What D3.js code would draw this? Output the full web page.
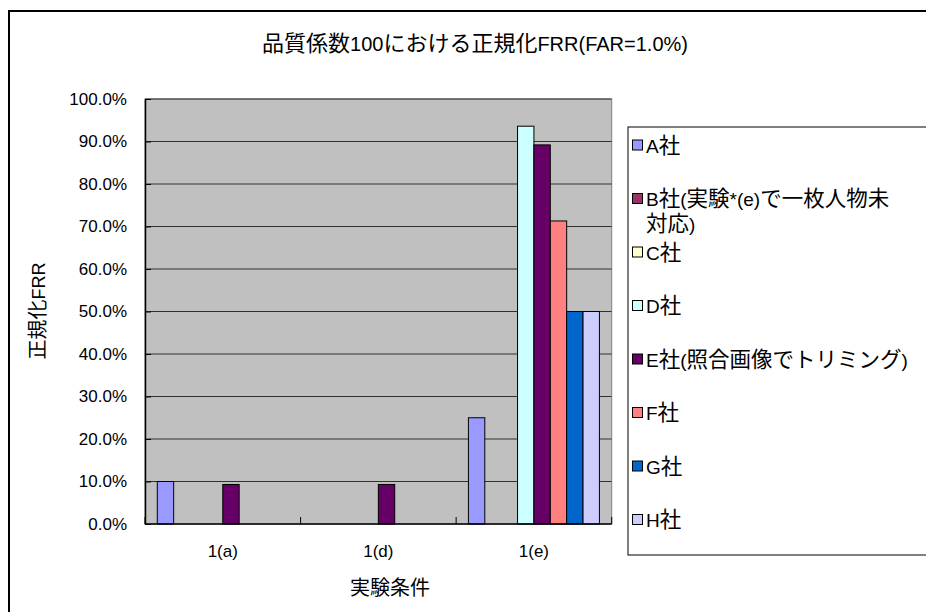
<!DOCTYPE html>
<html>
<head>
<meta charset="utf-8">
<script src="https://cdn.jsdelivr.net/npm/d3@7"></script>
<style>
  html, body { margin: 0; padding: 0; background: #fff; }
  svg { display: block; }
  text { font-family: "Liberation Sans", Arial, "Noto Sans CJK JP", sans-serif; fill: #000; }
</style>
</head>
<body>
<svg id="chart" width="926" height="612"></svg>
<script>
// Experiment conditions (x categories)
const categories = ["1(a)", "1(d)", "1(e)"];

// Vendors shown in the legend
const seriesNames = [
  "A社",
  "B社(実験*(e)で一枚人物未対応)",
  "C社",
  "D社",
  "E社(照合画像でトリミング)",
  "F社",
  "G社",
  "H社"
];

// Normalized FRR (%) per vendor, one value per condition (null = no bar)
const valuesA = [10.0, null, 25.0];
const valuesB = [null, null, null];
const valuesC = [null, null, null];
const valuesD = [null, null, 93.6];
const valuesE = [9.3, 9.3, 89.2];
const valuesF = [null, null, 71.3];
const valuesG = [null, null, 50.0];
const valuesH = [null, null, 50.0];

const seriesColors = ["#9999FF", "#993366", "#FFFFCC", "#CCFFFF", "#660066", "#FF8080", "#0066CC", "#CCCCFF"];

// Y axis tick values (%)
const yTicks = [0, 10, 20, 30, 40, 50, 60, 70, 80, 90, 100];

const titleText = "品質係数100における正規化FRR(FAR=1.0%)";
const yTitle = "正規化FRR";
const xTitle = "実験条件";

const seriesValues = [valuesA, valuesB, valuesC, valuesD, valuesE, valuesF, valuesG, valuesH];

const svg = d3.select("#chart");

// Writes mixed Japanese / Latin text: CJK runs are drawn a little larger than Latin runs
const CJK = /[\u3000-\u30ff\u3400-\u9fff\uff00-\uffef]/;
function richText(textSel, str, latinSize, cjkSize) {
  const runs = [];
  for (const ch of str) {
    const isCjk = CJK.test(ch);
    const last = runs[runs.length - 1];
    if (last && last.cjk === isCjk) last.s += ch;
    else runs.push({ cjk: isCjk, s: ch });
  }
  runs.forEach(r => {
    textSel.append("tspan")
      .style("font-family", '"Liberation Sans", Arial, "Noto Sans CJK JP", sans-serif')
      .attr("font-size", r.cjk ? cjkSize : latinSize)
      .text(r.s);
  });
  return textSel;
}

// Outer chart frame
svg.append("rect")
  .attr("x", 9).attr("y", 11)
  .attr("width", 940).attr("height", 620)
  .attr("fill", "#fff").attr("stroke", "#000").attr("stroke-width", 2);

const plot = { left: 145, right: 611.7, top: 99, bottom: 524 };

const x0 = d3.scaleBand().domain(categories).range([plot.left, plot.right]).padding(0);
const x1 = d3.scaleBand().domain(d3.range(seriesNames.length))
  .range([0, x0.bandwidth()]).paddingInner(0).paddingOuter(0.75);
const y = d3.scaleLinear().domain([0, 100]).range([plot.bottom, plot.top]);

// Plot background
svg.append("rect")
  .attr("x", plot.left).attr("y", plot.top)
  .attr("width", plot.right - plot.left).attr("height", plot.bottom - plot.top)
  .attr("fill", "#C0C0C0").attr("stroke", "#808080").attr("stroke-width", 1);

// Horizontal gridlines
svg.append("g")
  .selectAll("line")
  .data(yTicks.filter(t => t > 0))
  .join("line")
  .attr("x1", plot.left).attr("x2", plot.right)
  .attr("y1", d => y(d)).attr("y2", d => y(d))
  .attr("stroke", "#303030").attr("stroke-width", 1);

// Bars
const barData = [];
seriesValues.forEach((vals, si) => {
  vals.forEach((v, ci) => {
    if (v !== null) barData.push({ si, cat: categories[ci], v });
  });
});

svg.append("g")
  .selectAll("rect")
  .data(barData)
  .join("rect")
  .attr("x", d => x0(d.cat) + x1(d.si))
  .attr("y", d => y(d.v))
  .attr("width", x1.bandwidth())
  .attr("height", d => y(0) - y(d.v))
  .attr("fill", d => seriesColors[d.si])
  .attr("stroke", "#000").attr("stroke-width", 1);

// Y axis
const yAxis = d3.axisLeft(y)
  .tickValues(yTicks)
  .tickFormat(d => d3.format(".1f")(d) + "%")
  .tickSizeInner(-6).tickSizeOuter(0).tickPadding(18);
const gy = svg.append("g").attr("transform", `translate(${plot.left},0)`).call(yAxis);
gy.select(".domain").attr("stroke", "#000").attr("stroke-width", 1.5);
gy.selectAll(".tick line").attr("stroke", "#000");
gy.selectAll(".tick text").attr("font-size", 17).attr("fill", "#000")
  .style("font-family", '"Liberation Sans", Arial, sans-serif');

// X axis with ticks at category boundaries
const gx = svg.append("g").attr("transform", `translate(0,${plot.bottom})`);
gx.append("line")
  .attr("x1", plot.left).attr("x2", plot.right)
  .attr("stroke", "#000").attr("stroke-width", 1.5);
const boundaries = categories.map(c => x0(c)).concat([plot.right]);
gx.selectAll("line.bnd")
  .data(boundaries)
  .join("line").attr("class", "bnd")
  .attr("x1", d => d).attr("x2", d => d)
  .attr("y1", 0).attr("y2", -7)
  .attr("stroke", "#000");
gx.selectAll("text")
  .data(categories)
  .join("text")
  .attr("x", d => x0(d) + x0.bandwidth() / 2)
  .attr("y", 33)
  .attr("text-anchor", "middle")
  .attr("font-size", 17)
  .text(d => d);

// Titles
richText(svg.append("text")
  .attr("x", 475).attr("y", 51)
  .attr("text-anchor", "middle"), titleText, 20, 22);

richText(svg.append("text")
  .attr("transform", "translate(45,311) rotate(-90)")
  .attr("text-anchor", "middle"), yTitle, 18, 20);

richText(svg.append("text")
  .attr("x", 390).attr("y", 595)
  .attr("text-anchor", "middle"), xTitle, 18, 20);

// Legend: entries sit on a fixed pitch; a wrapped name continues on the next line
const legend = svg.append("g");
legend.append("rect")
  .attr("x", 628).attr("y", 127)
  .attr("width", 320).attr("height", 428)
  .attr("fill", "#fff").attr("stroke", "#000").attr("stroke-width", 1);

const legendLines = [
  ["A社"],
  ["B社(実験*(e)で一枚人物未", "対応)"],
  ["C社"], ["D社"], ["E社(照合画像でトリミング)"], ["F社"], ["G社"], ["H社"]
];
const lineH = 24.5;
const firstY = 145.5, pitch = 53.5;
legendLines.forEach((lines, i) => {
  const cy = firstY + i * pitch;
  const item = legend.append("g");
  item.append("rect")
    .attr("x", 632.5).attr("y", cy - 5.5)
    .attr("width", 10).attr("height", 10)
    .attr("fill", seriesColors[i]).attr("stroke", "#000").attr("stroke-width", 1);
  lines.forEach((t, j) => {
    richText(item.append("text")
      .attr("x", 646).attr("y", cy + j * lineH + 7), t, 19, 21.5);
  });
});
</script>
</body>
</html>
